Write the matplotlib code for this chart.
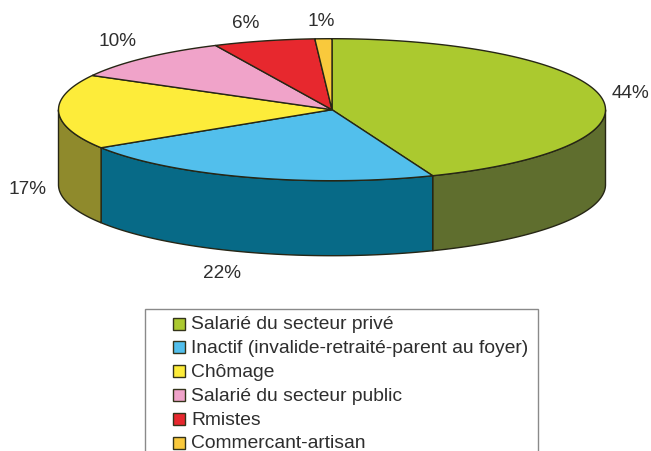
import numpy as np
import matplotlib
matplotlib.use('Agg')
import matplotlib.pyplot as plt
from matplotlib.patches import Polygon, Rectangle

categories = ['Salarié du secteur privé', 'Inactif (invalide-retraité-parent au foyer)', 'Chômage',
              'Salarié du secteur public', 'Rmistes', 'Commercant-artisan']
values = [44, 22, 17, 10, 6, 1]
top_colors = ['#ABC92F', '#52BFEC', '#FDEC3A', '#F0A3C9', '#E7282E', '#F9C93C']
side_colors = ['#5F6E2E', '#076A87', '#8F8A2C', '#8C6078', '#7A1A1A', '#8A7530']
labels = ['44%', '22%', '17%', '10%', '6%', '1%']
label_px = [(630, 94), (222, 274), (28, 190), (118, 41), (246, 24), (321, 22)]

W, H = 651, 452
fig = plt.figure(figsize=(W/100, H/100), dpi=100)
ax = fig.add_axes([0, 0, 1, 1])
ax.set_xlim(0, W); ax.set_ylim(H, 0); ax.axis('off')
plt.rcParams['font.family'] = 'Liberation Sans'

cx, cy, rx, ry, depth = 332, 110.7, 273.5, 71, 75
EDGE = '#262615'
TEXT = '#2e2e2e'

def pt(a):
    return cx + rx*np.sin(a), cy - ry*np.cos(a)

fr = np.cumsum([0] + values) / sum(values) * 2*np.pi
# sides (front half only, angle from top clockwise between pi/2 and 3pi/2)
for i in range(len(values)):
    a0, a1 = max(fr[i], np.pi/2), min(fr[i+1], 3*np.pi/2)
    if a1 <= a0:
        continue
    t = np.linspace(a0, a1, 120)
    x, y = pt(t)
    xy = np.r_[np.c_[x, y], np.c_[x[::-1], y[::-1] + depth]]
    ax.add_patch(Polygon(xy, closed=True, fc=side_colors[i], ec=EDGE, lw=1.0, zorder=2))
# top
for i in range(len(values)):
    t = np.linspace(fr[i], fr[i+1], 200)
    x, y = pt(t)
    xy = np.r_[[(cx, cy)], np.c_[x, y]]
    ax.add_patch(Polygon(xy, closed=True, fc=top_colors[i], ec=EDGE, lw=1.0, zorder=3))

for s, (x, y) in zip(labels, label_px):
    ax.text(x, y, s, ha='center', va='center', fontsize=13.7, color=TEXT)

# legend
ax.add_patch(Rectangle((144.5, 310), 393.5, 160, fc='white', ec='#8a8a8a', lw=1.0, zorder=4))
for i, c in enumerate(categories):
    y = 324.5 + i*23.9
    ax.add_patch(Rectangle((173, y-6), 12, 12, fc=top_colors[i], ec='#33331a', lw=1.0, zorder=5))
    ax.text(191, y, c, ha='left', va='center', fontsize=13.85, color=TEXT, zorder=5)
fig.savefig('out.png', dpi=100)
